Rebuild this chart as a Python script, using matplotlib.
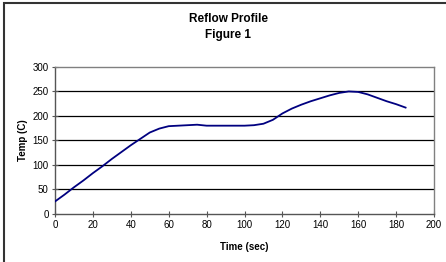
import matplotlib
matplotlib.use('Agg')
import matplotlib.pyplot as plt
from matplotlib.patches import Rectangle

# reflow profile data
time_sec = [0, 5, 10, 15, 20, 25, 30, 35, 40, 45, 50, 55, 60, 65, 70, 75, 80, 85, 90,
            95, 100, 105, 110, 115, 120, 125, 130, 135, 140, 145, 150, 155, 160, 165,
            170, 175, 180, 185]
temp_c = [25, 39, 54, 68, 83, 97, 112, 126, 140, 153, 166, 174, 179, 180, 181, 182, 180,
          180, 180, 180, 180, 181, 184, 192, 205, 215, 223, 230, 236, 242, 247, 250, 249,
          244, 237, 230, 224, 217]
x_ticks = list(range(0, 201, 20))
y_ticks = list(range(0, 301, 50))

plt.rcParams['font.family'] = ['Liberation Sans', 'DejaVu Sans']

W, H = 446, 262
fig = plt.figure(figsize=(W / 100, H / 100), dpi=100)
ax = fig.add_axes([55 / W, (H - 213.7) / H, (434 - 55) / W, (213.7 - 67) / H])

ax.plot(time_sec, temp_c, color='#000080', linewidth=1.3, zorder=3)

ax.set_xlim(0, 200)
ax.set_ylim(0, 300)
ax.set_xticks(x_ticks)
ax.set_yticks(y_ticks)
ax.tick_params(direction='inout', length=5, width=0.8, color='#555555',
               labelsize=7, pad=2)
for y in y_ticks[1:-1]:
    ax.axhline(y, color='black', linewidth=0.9, zorder=1)
for s in ax.spines.values():
    s.set_color('#808080')
    s.set_linewidth(1.0)
ax.spines['left'].set_color('#555555')
ax.spines['bottom'].set_color('#555555')

ax.set_xlabel('Time (sec)', fontsize=7, fontweight='bold', labelpad=9)
ax.set_ylabel('Temp (C)', fontsize=7, fontweight='bold', labelpad=3)

fig.text(228 / W, 1 - 27 / H, 'Reflow Profile\nFigure 1', ha='center', va='center',
         fontsize=8.5, fontweight='bold', linespacing=1.55)

# outer chart frame (runs off the right and bottom edges)
fig.patches.append(Rectangle((4 / W, -0.1), 1.0, 1 - 3 / H + 0.1,
                             transform=fig.transFigure, fill=False,
                             edgecolor='#333333', linewidth=1.5))

fig.savefig('out.png', dpi=100)
